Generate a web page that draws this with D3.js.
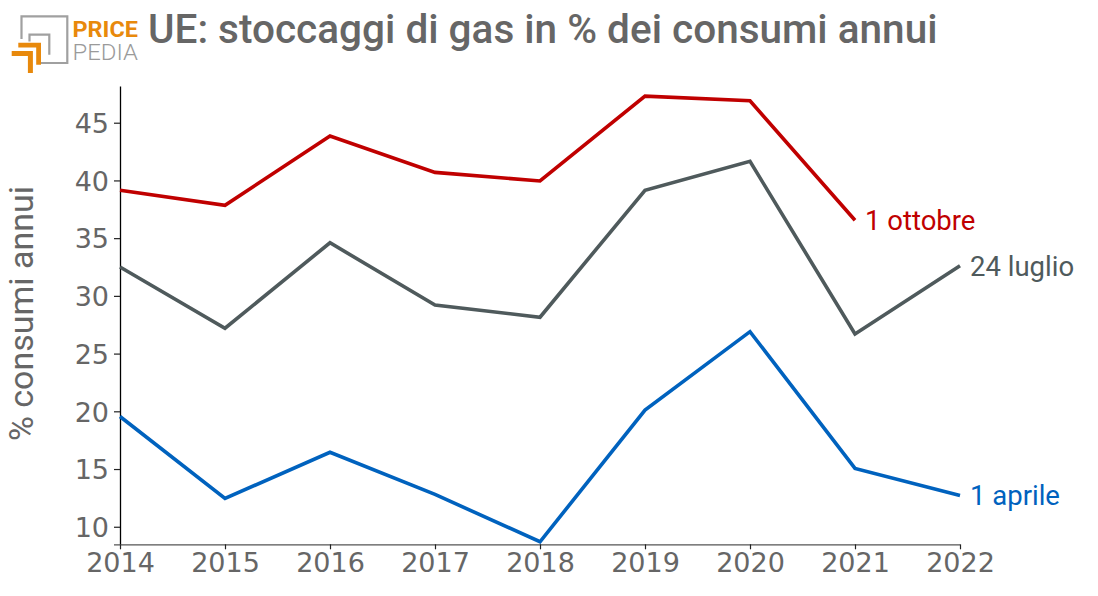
<!DOCTYPE html>
<html>
<head>
<meta charset="utf-8">
<script src="https://cdn.jsdelivr.net/npm/d3@7"></script>
<style>
  html, body { margin: 0; padding: 0; background: #fff; }
  svg { display: block; }
</style>
</head>
<body>
<svg id="chart" width="1098" height="596"></svg>
<script>
const years = [2014, 2015, 2016, 2017, 2018, 2019, 2020, 2021, 2022];
const ottobre = [39.15, 37.85, 43.85, 40.7, 39.95, 47.3, 46.9, 36.55];
const luglio = [32.5, 27.2, 34.6, 29.2, 28.15, 39.15, 41.65, 26.7, 32.6];
const aprile = [19.55, 12.45, 16.45, 12.8, 8.7, 20.1, 26.9, 15.05, 12.7];
const yTicks = [10, 15, 20, 25, 30, 35, 40, 45];
const seriesNames = ["1 ottobre", "24 luglio", "1 aprile"];
const title = "UE: stoccaggi di gas in % dei consumi annui";
const yTitle = "% consumi annui";

const svg = d3.select("#chart");
const x = d3.scaleLinear().domain([2014, 2022]).range([120, 960]);
const y = d3.scaleLinear().domain([8.48, 48.18]).range([544.3, 86]);

// Logo
const logo = svg.append("g");
const gray = "#a0a0a0", orange = "#e8890c";
logo.append("path").attr("d", "M21.5,39 V16.3 H67.3 V63 H38").attr("fill", "none").attr("stroke", gray).attr("stroke-width", 2.2);
logo.append("path").attr("d", "M29.5,41.5 V34.7 H49.3 V54.7").attr("fill", "none").attr("stroke", gray).attr("stroke-width", 2.2);
logo.append("path").attr("d", "M18.3,45.2 H38.6 V64.7").attr("fill", "none").attr("stroke", orange).attr("stroke-width", 4.8);
logo.append("path").attr("d", "M11.7,53.5 H30.4 V73").attr("fill", "none").attr("stroke", orange).attr("stroke-width", 5);
logo.append("text").attr("x", 72.5).attr("y", 36.7).text("PRICE")
  .attr("font-family", "Roboto").attr("font-weight", 700).attr("font-size", 22)
  .attr("fill", orange).attr("textLength", 65.5).attr("lengthAdjust", "spacingAndGlyphs");
logo.append("text").attr("x", 72.5).attr("y", 60).text("PEDIA")
  .attr("font-family", "Roboto").attr("font-weight", 300).attr("font-size", 22)
  .attr("fill", "#9a9a9a").attr("textLength", 65.5).attr("lengthAdjust", "spacingAndGlyphs");

// Title
svg.append("text").attr("x", 148).attr("y", 43.3).text(title)
  .attr("font-family", "Roboto").attr("font-weight", 500).attr("font-size", 40.5)
  .attr("fill", "#666666");

// Y axis
const yAxis = svg.append("g").attr("transform", `translate(${x(2014)},0)`)
  .call(d3.axisLeft(y).tickValues(yTicks).tickSize(6).tickPadding(5).tickSizeOuter(0));
yAxis.select(".domain").attr("stroke", "#000").attr("stroke-width", 1.3);
yAxis.selectAll(".tick line").attr("stroke", "#222").attr("stroke-width", 1.2);
yAxis.selectAll(".tick text").attr("font-family", "DejaVu Sans").attr("font-size", 27).attr("fill", "#666").attr("dy", "0.36em");

// X axis
const xAxis = svg.append("g").attr("transform", `translate(0,${y(8.48)})`)
  .call(d3.axisBottom(x).tickValues(years).tickFormat(d3.format("d")).tickSize(5).tickPadding(4).tickSizeOuter(0));
xAxis.select(".domain").attr("d", `M${x(2014) - 6},0.5 H${x(2022)}`).attr("stroke", "#555").attr("stroke-width", 1.3);
xAxis.selectAll(".tick line").attr("stroke", "#222").attr("stroke-width", 1.2);
xAxis.selectAll(".tick text").attr("font-family", "DejaVu Sans").attr("font-size", 27).attr("fill", "#666");

// Y title
svg.append("text").attr("transform", `translate(33,313.5) rotate(-90)`)
  .attr("text-anchor", "middle").text(yTitle)
  .attr("font-family", "Roboto").attr("font-size", 34).attr("fill", "#666666");

// Lines
const series = [
  { name: seriesNames[0], values: ottobre, color: "#c00000" },
  { name: seriesNames[1], values: luglio, color: "#4f5a5c" },
  { name: seriesNames[2], values: aprile, color: "#0062be" }
];
const line = d3.line().x(d => x(d[0])).y(d => y(d[1]));
series.forEach(s => {
  const pts = s.values.map((v, i) => [years[i], v]);
  svg.append("path").datum(pts).attr("d", line)
    .attr("fill", "none").attr("stroke", s.color).attr("stroke-width", 3.6)
    .attr("stroke-linejoin", "miter");
  const last = pts[pts.length - 1];
  svg.append("text").attr("x", x(last[0]) + 10).attr("y", y(last[1])).attr("dy", "0.36em")
    .text(s.name).attr("font-family", "Roboto").attr("font-size", 27.5).attr("fill", s.color);
});
</script>
</body>
</html>
